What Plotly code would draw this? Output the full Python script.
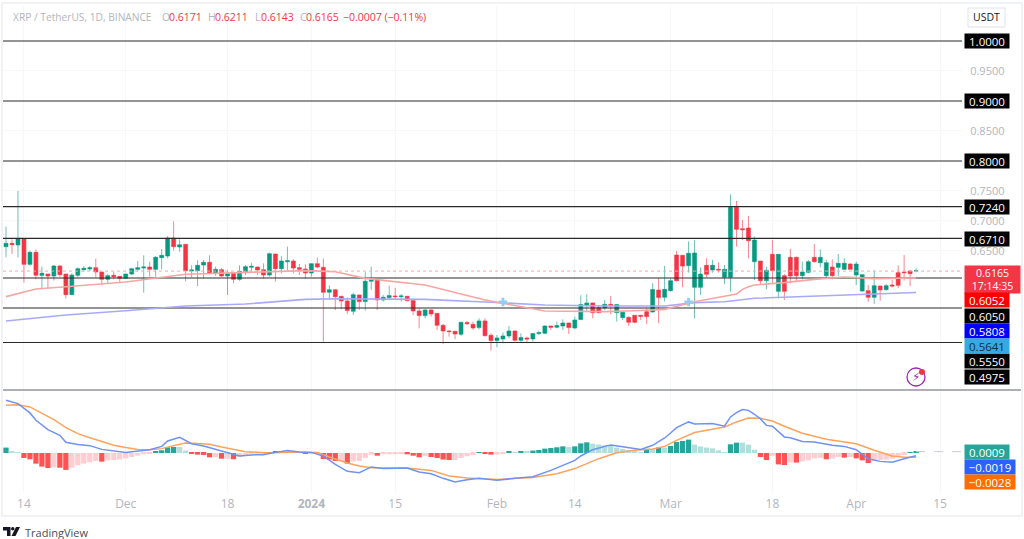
import pandas as pd
import plotly.graph_objects as go

# ---------- data ----------
highs = [.6905,.6694,.7500,.6705,.6505,.6527,.6239,.6116,.6266,.6266,.6116,.6127,.6227,.6250,.6250,.6372,.6150,.6116,.6155,.6083,.6122,.6222,.6333,.6427,.6322,.6416,.6533,.6750,.6994,.6694,.6616,.6261,.6344,.6350,.6427,.6239,.6216,.6183,.6133,.6261,.6266,.6305,.6239,.6294,.6472,.6450,.6416,.6572,.6361,.6283,.6277,.6294,.6389,.6377,.5927,.5861,
         .5750,.5728,.5806,.5772,.6145,.6239,.6017,.5767,.5922,.5884,.5784,.5750,.5673,.5545,.5534,.5528,.5461,.5284,.5184,.5167,.5322,.5334,.5322,.5378,.5378,.5128,.5100,.5139,.5250,.5173,.5128,.5072,.5128,.5173,.5261,.5250,.5323,.5361,.5306,.5406,.5761,.5778,.5639,.5600,.5684,.5750,.5617,.5489,.5406,.5434,.5434,.5545,.5961,.6045,.6250,
         .6044,.6500,.6433,.6661,.6683,.6227,.6377,.6350,.6311,.6266,.7444,.7333,.7016,.7083,.6739,.6333,.6239,.6683,.6450,.6116,.6533,.6405,.6322,.6350,.6616,.6527,.6350,.6361,.6450,.6377,.6294,.6322,.6111,.5933,.6172,.5922,.5950,.6016,.6261,.6433,.6183,.6211]
body_tops = [.6627,.6627,.6705,.6705,.6477,.6477,.6127,.6116,.6250,.6250,.6116,.6099,.6205,.6211,.6222,.6222,.6150,.6089,.6094,.6077,.6116,.6205,.6222,.6233,.6233,.6394,.6427,.6716,.6716,.6605,.6611,.6183,.6261,.6311,.6311,.6194,.6189,.6122,.6127,.6161,.6239,.6244,.6233,.6189,.6455,.6450,.6333,.6339,.6333,.6222,.6199,.6289,.6289,.6228,.5855,.5855,
             .5745,.5667,.5772,.5767,.5995,.6017,.6017,.5728,.5756,.5750,.5750,.5745,.5673,.5500,.5517,.5517,.5461,.5261,.5167,.5161,.5311,.5306,.5278,.5334,.5334,.5095,.5050,.5084,.5167,.5167,.5056,.5050,.5123,.5139,.5250,.5250,.5256,.5300,.5300,.5350,.5606,.5634,.5634,.5556,.5611,.5611,.5606,.5478,.5395,.5428,.5428,.5489,.5856,.5850,.5861,
             .6005,.6433,.6427,.6461,.6466,.6116,.6261,.6261,.6194,.6194,.7227,.7227,.6872,.6883,.6683,.6333,.6177,.6444,.6444,.6089,.6394,.6394,.6150,.6322,.6394,.6394,.6305,.6233,.6294,.6294,.6283,.6283,.6105,.5839,.5922,.5916,.5922,.5933,.6139,.6150,.6166,.6171]
body_bottoms = [.6572,.6605,.6600,.6277,.6277,.6094,.6094,.6083,.6083,.6105,.5772,.5772,.6094,.6189,.6200,.6150,.6027,.6027,.6072,.6044,.6044,.6116,.6194,.6216,.6194,.6194,.6388,.6416,.6572,.6566,.6172,.6166,.6172,.6266,.6127,.6127,.6083,.6083,.6027,.6027,.6155,.6227,.6183,.6099,.6099,.6205,.6205,.6322,.6216,.6194,.6133,.6133,.6233,.5811,.5811,.5739,
                .5667,.5506,.5495,.5656,.5656,.5995,.5684,.5684,.5723,.5739,.5739,.5673,.5500,.5423,.5423,.5450,.5261,.5167,.5156,.5117,.5111,.5289,.5217,.5223,.5089,.5006,.5006,.5034,.5084,.5011,.5011,.5034,.5034,.5123,.5128,.5228,.5228,.5250,.5223,.5217,.5356,.5600,.5472,.5472,.5550,.5595,.5472,.5389,.5311,.5311,.5411,.5406,.5484,.5723,.5728,
                .5839,.6005,.6250,.6255,.5894,.5894,.6111,.6183,.6183,.6061,.6061,.6861,.6855,.6672,.6322,.6005,.6005,.6172,.5827,.5827,.6083,.6089,.6089,.6144,.6322,.6305,.6089,.6089,.6227,.6194,.6194,.6099,.5833,.5728,.5728,.5850,.5855,.5916,.5928,.6139,.6122,.6165]
lows = [.6394,.6450,.6394,.5972,.6250,.6027,.5861,.5872,.6005,.6072,.5711,.5766,.6061,.6155,.6166,.6061,.5927,.5961,.6027,.5972,.6039,.6099,.6155,.5805,.6072,.6072,.6194,.6377,.6505,.6489,.5994,.6061,.5916,.6044,.6111,.6089,.6072,.5766,.5961,.6005,.6099,.6139,.6099,.6039,.6072,.5989,.6127,.6183,.6127,.6099,.6039,.6072,.6211,.4989,.5694,.5516,
        .5528,.5450,.5434,.5517,.5506,.5850,.5517,.5656,.5695,.5684,.5656,.5656,.5434,.5211,.5378,.5406,.5184,.4950,.5072,.5028,.5084,.5267,.5184,.5195,.5072,.4839,.4895,.4961,.5045,.4989,.4973,.4973,.4989,.5100,.5111,.5184,.5211,.5184,.5117,.5195,.5350,.5489,.5378,.5461,.5517,.5445,.5322,.5350,.5250,.5295,.5350,.5284,.5473,.5295,.5656,
        .5822,.5989,.5894,.6139,.5377,.5766,.6061,.6139,.6139,.5950,.5822,.6572,.6683,.6377,.6016,.5933,.5861,.5961,.5711,.5683,.5961,.5989,.6027,.6127,.6305,.6227,.6044,.6027,.6083,.6183,.6194,.5933,.5822,.5655,.5617,.5672,.5839,.5894,.5878,.6005,.5916,.6143]
rising = ["GRGRGRGRGR","RGGGGRRGRR","GGGGRGGGRG","RGGGRGRGRG","GGRRGRGGRR","RGRRGR",
          "RRGRGGRGGR","GRRRGRRRRR","GRRGRRGGGR","GRGGGRGGRG","GGRRGRGGRR","RRGRG","GRRG",
          "GGRGRGGRRR","GRGRGRRRGG","RGGRGGRGGR","GRGRRRRGRG"]
candle_up = "".join(rising)

macd_hist = [.0036,.0013,.0004,-.0033,-.0042,-.0071,-.0091,-.0100,-.0096,-.0098,-.0113,-.0098,-.0082,-.0071,-.0062,-.0053,-.0058,-.0049,-.0047,-.0044,-.0036,-.0027,-.0018,-.0009,-.0004,.0009,.0018,.0038,.0040,.0040,.0016,-.0007,-.0011,-.0013,-.0029,-.0029,-.0038,-.0038,-.0042,-.0027,-.0018,-.0009,-.0004,-.0001,.0004,.0007,.0009,.0009,.0004,.0002,-.0004,-.0001,-.0001,-.0040,-.0044,-.0053,-.0053,-.0071,-.0056,-.0053,-.0033,-.0011,-.0018,-.0009,-.0009,-.0009,-.0004,-.0009,-.0018,-.0029,-.0020,-.0027,-.0033,-.0044,-.0047,-.0047,-.0033,-.0022,-.0013,.0002,-.0007,-.0011,-.0011,-.0001,.0009,.0002,.0007,.0007,.0016,.0020,.0029,.0033,.0038,.0044,.0040,.0044,.0064,.0071,.0062,.0056,.0051,.0047,.0036,.0027,.0018,.0009,.0002,.0027,.0027,.0036,.0036,.0047,.0073,.0080,.0089,.0056,.0044,.0036,.0031,.0018,.0004,.0058,.0069,.0069,.0056,.0022,-.0027,-.0047,-.0020,-.0076,-.0080,-.0062,-.0064,-.0056,-.0049,-.0036,-.0033,-.0042,-.0038,-.0027,-.0031,-.0027,-.0036,-.0049,-.0067,-.0053,-.0047,-.0044,-.0038,-.0027,-.0013,.0002,.0009]

ma_red_days = [0,5,10,20,30,40,50,55,60,70,80,90,100,105,110,115,120,122,123,124,125,130,135,140,145,150,152]
ma_red_vals = [.5739,.5866,.5905,.5983,.6111,.6144,.6172,.6155,.6044,.5933,.5683,.5500,.5489,.5505,.5527,.5655,.5739,.5783,.5861,.5905,.5933,.5972,.6027,.6066,.6039,.6044,.6052]
ma_blue_days = [0,10,20,30,40,50,55,60,70,80,90,100,110,115,120,125,130,140,150,152]
ma_blue_vals = [.5333,.5433,.5505,.5583,.5616,.5694,.5705,.5705,.5694,.5650,.5600,.5583,.5583,.5639,.5655,.5711,.5727,.5766,.5794,.5808]

macd_days = [0,2,4,5,7,9,10,12,14,16,20,24,26,27,29,31,33,37,39,41,43,45,47,49,51,53,55,57,59,61,63,67,69,71,73,75,77,79,82,85,88,91,93,95,96,98,100,101,103,106,108,110,111,112,114,115,118,120,121,122,123,124,125,126,127,128,130,131,133,135,138,140,142,144,146,148,150,152]
macd_vals = [.0351,.0329,.0267,.0218,.0156,.0118,.0071,.0056,.0049,.0024,.0004,.0022,.0044,.0080,.0104,.0062,.0047,.0004,-.0020,-.0013,-.0011,.0004,.0016,.0007,.0004,-.0020,-.0076,-.0122,-.0131,-.0093,-.0104,-.0100,-.0127,-.0138,-.0169,-.0193,-.0178,-.0169,-.0182,-.0169,-.0158,-.0116,-.0084,-.0049,-.0020,.0022,.0044,.0053,.0042,.0024,.0051,.0100,.0133,.0169,.0207,.0193,.0196,.0178,.0240,.0269,.0289,.0284,.0258,.0227,.0184,.0178,.0107,.0102,.0076,.0073,.0051,.0044,.0022,-.0038,-.0056,-.0062,-.0038,-.0019]
signal_days = [0,2,4,6,8,10,12,14,16,18,20,22,24,26,28,30,32,34,36,38,40,44,48,52,54,57,59,61,67,71,74,77,82,88,92,95,99,102,105,108,110,112,115,120,122,124,126,128,130,133,137,142,145,148,150,152]
signal_vals = [.0318,.0322,.0307,.0267,.0222,.0169,.0129,.0102,.0076,.0051,.0036,.0024,.0022,.0029,.0049,.0067,.0064,.0058,.0040,.0022,.0009,.0000,.0007,.0004,-.0027,-.0067,-.0087,-.0098,-.0100,-.0116,-.0153,-.0167,-.0176,-.0164,-.0138,-.0104,-.0038,.0002,.0018,.0027,.0044,.0084,.0136,.0173,.0207,.0233,.0231,.0213,.0178,.0131,.0091,.0062,.0018,-.0020,-.0029,-.0028]

levels = [1.0, 0.9, 0.8, 0.724, 0.671, 0.605, 0.555, 0.4975]
price_ticks = [0.65, 0.70, 0.75, 0.85, 0.95]
last_price = 0.6165
alert_days = [83, 114]
alert_vals = [0.565, 0.565]
date_ticks = ["2023-11-14","2023-12-01","2023-12-18","2024-01-01","2024-01-15","2024-02-01","2024-02-14","2024-03-01","2024-03-18","2024-04-01","2024-04-15"]
date_labels = ["14","Dec","18","<b>2024</b>","15","Feb","14","Mar","18","Apr","15"]

# ---------- derived ----------
n = len(highs)
dates = pd.date_range("2023-11-11", periods=n, freq="D")
opens = [b if u == "G" else t for t, b, u in zip(body_tops, body_bottoms, candle_up)]
closes = [t if u == "G" else b for t, b, u in zip(body_tops, body_bottoms, candle_up)]

def hist_colour(i):
    v, p = macd_hist[i], macd_hist[i - 1] if i else 0
    if v >= 0:
        return "#26a69a" if v > p else "#b2dfdb"
    return "#ff5252" if v < p else "#ffcdd2"

W, H = 1024, 539
L, R, T, B = 3, 962, 6, 492
x_start = pd.Timestamp("2023-11-10 12:00")
x_end = pd.Timestamp("2024-04-18 16:00")
PANE1 = 390
PANE2 = 391
FONT = "Open Sans"
GREY = "#b2b5be"

fig = go.Figure()

for lv in levels:
    fig.add_trace(go.Scatter(x=[x_start, x_end], y=[lv, lv], mode="lines",
                             line=dict(color="#2a2a2a", width=1.2), hoverinfo="skip", showlegend=False))
fig.add_trace(go.Scatter(x=[x_start, x_end], y=[last_price, last_price], mode="lines",
                         line=dict(color="#f7a8ae", width=1, dash="dot"), hoverinfo="skip", showlegend=False))
fig.add_trace(go.Scatter(x=dates[ma_blue_days], y=ma_blue_vals, mode="lines",
                         line=dict(color="#a9a9fb", width=1.6), hoverinfo="skip", showlegend=False))
fig.add_trace(go.Scatter(x=dates[ma_red_days], y=ma_red_vals, mode="lines",
                         line=dict(color="#f7a6a4", width=1.6), hoverinfo="skip", showlegend=False))
fig.add_trace(go.Candlestick(
    x=dates, open=opens, high=highs, low=lows, close=closes, whiskerwidth=0, showlegend=False,
    increasing=dict(line=dict(color="rgba(8,153,129,0.6)", width=1), fillcolor="#089981"),
    decreasing=dict(line=dict(color="rgba(242,54,69,0.6)", width=1), fillcolor="#f23645"),
))
fig.add_trace(go.Scatter(x=dates[alert_days], y=alert_vals, mode="markers",
                         marker=dict(symbol="cross", size=7, color="#93cdf3"), hoverinfo="skip", showlegend=False))
fig.add_trace(go.Bar(x=dates, y=macd_hist, marker=dict(color=[hist_colour(i) for i in range(n)], line=dict(width=0)),
                     xaxis="x2", yaxis="y2", showlegend=False, hoverinfo="skip"))
fig.add_trace(go.Scatter(x=[dates[-1], x_end], y=[0.0009, 0.0009], mode="lines", xaxis="x2", yaxis="y2",
                         line=dict(color="#c9ccd3", width=1, dash="dash"), hoverinfo="skip", showlegend=False))
fig.add_trace(go.Scatter(x=dates[signal_days], y=signal_vals, mode="lines", xaxis="x2", yaxis="y2",
                         line=dict(color="#ffa35c", width=1.5), hoverinfo="skip", showlegend=False))
fig.add_trace(go.Scatter(x=dates[macd_days], y=macd_vals, mode="lines", xaxis="x2", yaxis="y2",
                         line=dict(color="#6f92f5", width=1.5), hoverinfo="skip", showlegend=False))

# paper coordinates cover the plot area, so convert from figure pixels
def py(p):
    return (B - p) / (B - T)
def px(p):
    return (p - L) / (R - L)

ann = []
def label(text, ymid, bg, fg="#ffffff", x0=964, x1=1008, h=14, size=11.5):
    ann.append(dict(xref="paper", yref="paper", x=px(x0), y=py(ymid), xanchor="left", yanchor="middle",
                    text=text, showarrow=False, bgcolor=bg, width=x1 - x0, height=h, borderpad=0, align="center",
                    font=dict(family=FONT, size=size, color=fg)))
def text(s, x, y, colour, size=11, anchor="left", family=FONT):
    ann.append(dict(xref="paper", yref="paper", x=px(x), y=py(y), xanchor=anchor, yanchor="middle",
                    text=s, showarrow=False, font=dict(family=family, size=size, color=colour)))

for t, y in [("1.0000", 41), ("0.9000", 101), ("0.8000", 161), ("0.7240", 207), ("0.6710", 239),
             ("0.6050", 316), ("0.5550", 361), ("0.4975", 377)]:
    label(t, y, "#000000")
label("0.6165<br>17:14:35", 279, "#f23645", x1=1019, h=27, size=10.5)
label("0.6052", 299.5, "#ff0000")
label("0.5808", 331, "#0000ff")
label("0.5641", 346, "#36a9e1", fg="#10303f")
label("0.0009", 452, "#26a69a")
label("\u22120.0019", 466.5, "#2962ff", x1=1014)
label("\u22120.0028", 482, "#ff6d00", x1=1014)

text("XRP / TetherUS, 1D, BINANCE", 11, 17, GREY, 10.2)
for s, x, c in [("O", 160, GREY), ("0.6171", 167, "#f23645"), ("H", 206, GREY), ("0.6211", 213, "#f23645"),
                ("L", 253, GREY), ("0.6143", 259, "#f23645"), ("C", 298, GREY), ("0.6165", 304, "#f23645"),
                ("\u22120.0007 (\u22120.11%)", 341, "#f23645")]:
    text(s, x, 17, c, 10.5)
text("USDT", 986.5, 17, "#131722", 10.5, anchor="center")
text("TradingView", 23, 532, "#4a4e59", 11)
text("\u26a1", 916, 377, "#9c27b0", 12, anchor="center", family="DejaVu Sans")

def poly(points):
    return "M" + " L".join(f"{px(x):.5f},{py(y):.5f}" for x, y in points) + " Z"

shapes = [
    dict(type="rect", xref="paper", yref="paper", x0=px(2), x1=px(1022), y0=py(516), y1=py(3),
         line=dict(color="#eceef2", width=1.5), layer="below"),
    dict(type="line", xref="paper", yref="paper", x0=px(3), x1=px(1021), y0=py(390), y1=py(390),
         line=dict(color="#5f6167", width=1)),
    dict(type="rect", xref="paper", yref="paper", x0=px(968), x1=px(1005), y0=py(27), y1=py(8),
         line=dict(color="#dfe2e8", width=1)),
    dict(type="circle", xref="paper", yref="paper", x0=px(907), x1=px(925), y0=py(386), y1=py(368),
         line=dict(color="#9c27b0", width=1.3)),
    dict(type="circle", xref="paper", yref="paper", x0=px(919), x1=px(925), y0=py(375), y1=py(369),
         line=dict(width=0), fillcolor="#f23645"),
    # TradingView logo mark
    dict(type="path", xref="paper", yref="paper", line=dict(width=0), fillcolor="#131722",
         path=poly([(3, 527), (10.5, 527), (10.5, 536), (7, 536), (7, 530.5), (3, 530.5)])),
    dict(type="circle", xref="paper", yref="paper", x0=px(11), x1=px(14.5), y0=py(530.5), y1=py(527),
         line=dict(width=0), fillcolor="#131722"),
    dict(type="path", xref="paper", yref="paper", line=dict(width=0), fillcolor="#131722",
         path=poly([(11.5, 536), (16, 527), (20, 527), (15.5, 536)])),
]

span = B - T
common_x = dict(range=[x_start, x_end], type="date", showline=False, zeroline=False,
                tickvals=date_ticks, gridcolor="#f6f7f9", gridwidth=1)
fig.update_layout(
    width=W, height=H, margin=dict(l=L, r=W - R, t=T, b=H - B),
    paper_bgcolor="#ffffff", plot_bgcolor="#ffffff", barmode="overlay", bargap=0.12, boxgap=0.06,
    font=dict(family=FONT), showlegend=False, annotations=ann, shapes=shapes,
    xaxis=dict(common_x, domain=[0, 1], anchor="y", showticklabels=False, ticks="", rangeslider=dict(visible=False)),
    xaxis2=dict(common_x, domain=[0, 1], anchor="y2", ticktext=date_labels, ticks="outside", ticklen=1,
                tickcolor="#ffffff", tickfont=dict(family=FONT, size=12, color=GREY), tickangle=0),
    yaxis=dict(domain=[(B - PANE1) / span, 1], range=[1.0583, 0.4183][::-1], side="right", anchor="x",
               tickvals=price_ticks, ticktext=[f"{v:.4f}" for v in price_ticks], ticks="outside", ticklen=5,
               tickcolor="#ffffff", tickfont=dict(family=FONT, size=11, color=GREY),
               gridcolor="#f6f7f9", zeroline=False, showline=False),
    yaxis2=dict(domain=[0, (B - PANE2) / span], range=[-0.026, 0.0413], side="right", anchor="x2",
                showticklabels=False, ticks="", showgrid=False, zeroline=False, showline=False),
)
fig.write_html("out.html", config=dict(displayModeBar=False),
               post_script="document.body.style.margin='0';document.documentElement.style.overflow='hidden';")
